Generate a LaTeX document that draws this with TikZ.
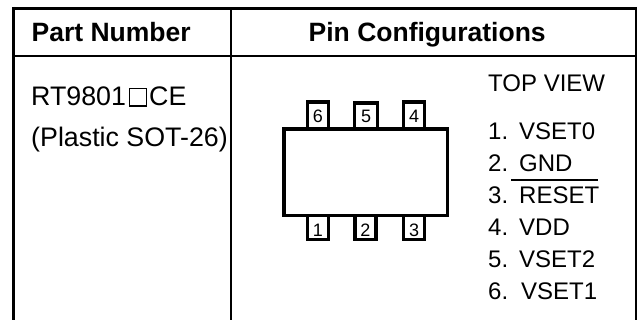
\documentclass[tikz,border=0pt]{standalone}
\usepackage{fontspec}
\setmainfont{Liberation Sans}
\tikzset{x=1pt,y=-1pt,
 hdr/.style={anchor=base west,inner sep=0pt,font=\fontsize{26.5}{26}\selectfont\bfseries},
 txt/.style={anchor=base west,inner sep=0pt,font=\fontsize{24}{24}\selectfont},
 big/.style={anchor=base west,inner sep=0pt,font=\fontsize{26.8}{26}\selectfont},
 pinbox/.style={draw=black,line width=3.4pt,fill=white,minimum width=21pt,minimum height=40pt,inner sep=0pt},
 digit/.style={inner sep=0pt,font=\fontsize{18}{18}\selectfont},
 rule/.style={line width=2.6pt,black}}
\begin{document}
\begin{tikzpicture}
\useasboundingbox (0,0) rectangle (642,320);
\draw[rule,line width=3.4pt] (13.6,7) -- (13.6,320);
\draw[rule,line width=3.4pt] (12,8.7) -- (637.3,8.7);
\draw[rule] (636.1,7) -- (636.1,320);
\draw[rule,line width=2.8pt] (12,56) -- (637.3,56);
\draw[rule,line width=2.3pt] (231,8.7) -- (231,320);
\node[hdr] (h1) at (31.5,41.5) {Part Number};
\node[hdr] (h2) at (308.5,41.5) {Pin Configurations};
\node[big] (p1) at (31,106) {RT9801\kern2.5pt\raisebox{0pt}{\tikz[baseline=0pt,x=1pt,y=1pt]\draw[line width=1.1pt] (0,0) rectangle (17.5,17.5);}\kern2pt CE};
\node[big] (p2) at (31,146.5) {(Plastic SOT-26)};
\node[pinbox,anchor=north] (pin6) at (317.7,100.5) {};
\node[pinbox,anchor=north,minimum width=23pt] (pin5) at (366,101.5) {};
\node[pinbox,anchor=north] (pin4) at (414,100.5) {};
\node[pinbox,anchor=south] (pin1) at (318,241.5) {};
\node[pinbox,anchor=south] (pin2) at (365.5,241.5) {};
\node[pinbox,anchor=south] (pin3) at (414,241.5) {};
\node[draw=black,line width=3.4pt,fill=white,minimum width=163.5pt,minimum height=86.5pt,inner sep=0pt] (body) at (365.7,172.2) {};
\node[digit] (d6) at (318,116.5) {6};
\node[digit] (d5) at (366,116.5) {5};
\node[digit] (d4) at (414,116.5) {4};
\node[digit] (d1) at (318,230) {1};
\node[digit] (d2) at (365.5,230) {2};
\node[digit] (d3) at (414,230) {3};
\node[txt] (tv) at (488,91.7) {TOP VIEW};
\foreach \n/\y/\tx/\lab/\num in {a/139.5/519/VSET0/1.,b/171.7/519/GND/2.,c/203.5/519/RESET/3.,d/235.7/519/VDD/4.,e/267.5/519/VSET2/5.,f/299.5/521/VSET1/6.}{
 \node[txt] (num\n) at (488,\y) {\num};
 \node[txt] (lab\n) at (\tx,\y) {\lab};
}
\coordinate (ovl) at (511,179.8);
\coordinate (ovr) at (597.7,179.8);
\draw[line width=1.6pt] (ovl) -- (ovr);
\end{tikzpicture}
\end{document}
